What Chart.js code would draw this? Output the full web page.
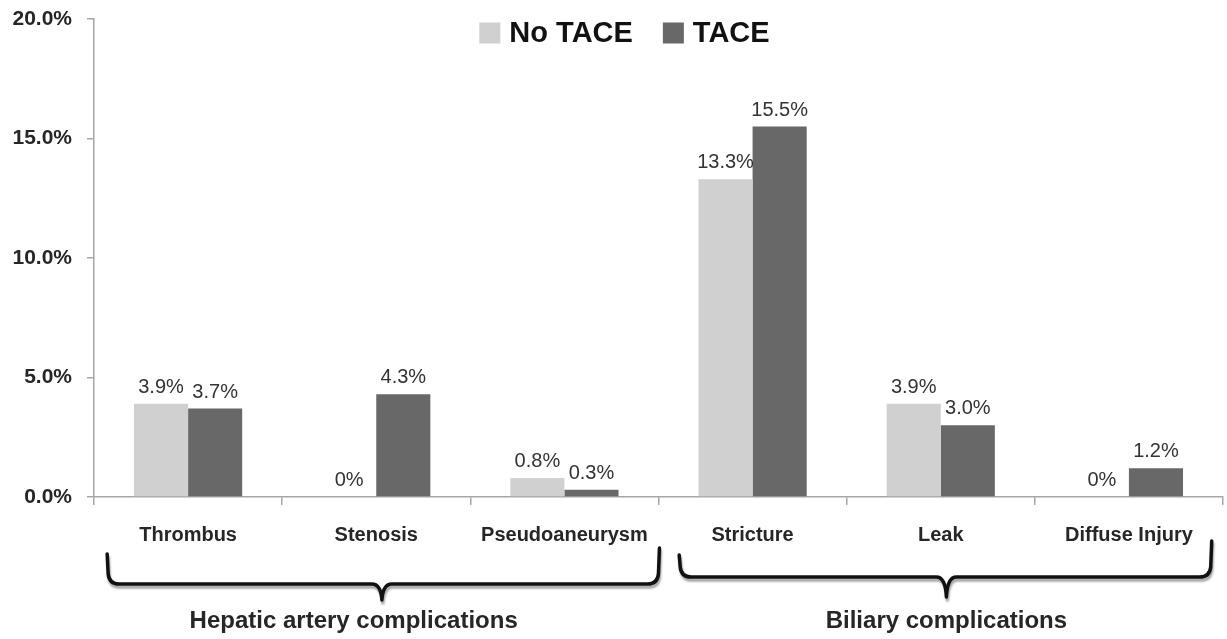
<!DOCTYPE html>
<html>
<head>
<meta charset="utf-8">
<script src="https://cdn.jsdelivr.net/npm/chart.js@4.4.1/dist/chart.umd.min.js"></script>
<style>
html,body{margin:0;padding:0;background:#fff;}
#wrap{width:1227px;height:639px;position:relative;}
</style>
</head>
<body>
<div id="wrap"><canvas id="c" width="1227" height="639"></canvas></div>
<script>
const categories = ['Thrombus', 'Stenosis', 'Pseudoaneurysm', 'Stricture', 'Leak', 'Diffuse Injury'];
const noTace = [3.9, 0, 0.8, 13.3, 3.9, 0];
const tace = [3.7, 4.3, 0.3, 15.5, 3.0, 1.2];
const seriesNames = ['No TACE', 'TACE'];
const yTicks = [0, 5, 10, 15, 20];
const groups = [
  { label: 'Hepatic artery complications', from: -0.43, to: 2.505, tip: 1.03, yLine: 584, yTopL: 554, yTopR: 548, yTip: 600, textX: 0.88 },
  { label: 'Biliary complications', from: 2.61, to: 5.44, tip: 4.03, yLine: 577, yTopL: 555, yTopR: 541, yTip: 597, textX: 4.03 }
];

const colors = ['#d0d0d0', '#686868'];
const textColor = '#262626';

function drawBrace(ctx, x1, x2, xm, yTopL, yTopR, yLine, yTip) {
  const r = 10;
  ctx.beginPath();
  ctx.moveTo(x1, yTopL);
  ctx.lineTo(x1 + 1, yLine - r);
  ctx.quadraticCurveTo(x1 + 2, yLine, x1 + r + 2, yLine);
  ctx.lineTo(xm - r, yLine);
  ctx.quadraticCurveTo(xm - 1, yLine, xm, yTip);
  ctx.quadraticCurveTo(xm + 1, yLine, xm + r, yLine);
  ctx.lineTo(x2 - r - 2, yLine);
  ctx.quadraticCurveTo(x2 - 2, yLine, x2 - 1, yLine - r);
  ctx.lineTo(x2, yTopR);
  ctx.stroke();
}

const overlay = {
  id: 'overlay',
  afterDraw(chart) {
    const ctx = chart.ctx;
    const x = chart.scales.x;
    const area = chart.chartArea;
    ctx.save();
    // data labels
    ctx.font = '20px "Liberation Sans", Arial, sans-serif';
    ctx.fillStyle = '#333';
    ctx.textAlign = 'center';
    ctx.textBaseline = 'alphabetic';
    chart.data.datasets.forEach((ds, di) => {
      const meta = chart.getDatasetMeta(di);
      meta.data.forEach((el, i) => {
        const v = ds.data[i];
        const t = v === 0 ? '0%' : v.toFixed(1) + '%';
        ctx.fillText(t, el.x, el.y - 11);
      });
    });
    // legend
    ctx.font = 'bold 29px "Liberation Sans", Arial, sans-serif';
    ctx.textBaseline = 'middle';
    ctx.textAlign = 'left';
    const box = 21, gapBox = 9, gapItem = 30;
    const widths = seriesNames.map(n => ctx.measureText(n).width);
    const total = widths.reduce((a, w) => a + box + gapBox + w, 0) + gapItem;
    let lx = (area.left + area.right) / 2 - 34 - total / 2;
    const ly = 33;
    seriesNames.forEach((n, i) => {
      ctx.fillStyle = colors[i];
      ctx.fillRect(lx, ly - box / 2, box, box);
      lx += box + gapBox;
      ctx.fillStyle = '#111';
      ctx.fillText(n, lx, ly + 1);
      lx += widths[i] + gapItem;
    });
    // braces
    ctx.lineWidth = 3.5;
    ctx.strokeStyle = '#111';
    ctx.lineJoin = 'round';
    ctx.lineCap = 'round';
    ctx.shadowColor = 'rgba(0,0,0,0.35)';
    ctx.shadowOffsetY = 3;
    ctx.shadowOffsetX = 1;
    ctx.shadowBlur = 2;
    groups.forEach(g => {
      drawBrace(ctx, x.getPixelForValue(g.from), x.getPixelForValue(g.to), x.getPixelForValue(g.tip), g.yTopL, g.yTopR, g.yLine, g.yTip);
    });
    ctx.shadowColor = 'transparent';
    ctx.font = 'bold 24px "Liberation Sans", Arial, sans-serif';
    ctx.fillStyle = textColor;
    ctx.textAlign = 'center';
    ctx.textBaseline = 'middle';
    groups.forEach(g => {
      ctx.fillText(g.label, x.getPixelForValue(g.textX), 621);
    });
    ctx.restore();
  }
};

new Chart(document.getElementById('c'), {
  type: 'bar',
  data: {
    labels: categories,
    datasets: [
      { label: seriesNames[0], data: noTace, backgroundColor: colors[0] },
      { label: seriesNames[1], data: tace, backgroundColor: colors[1] }
    ]
  },
  options: {
    responsive: false,
    animation: false,
    devicePixelRatio: 1,
    layout: { padding: { top: 19, right: 4, left: 0, bottom: 0 } },
    plugins: { legend: { display: false }, tooltip: { enabled: false } },
    datasets: { bar: { categoryPercentage: 0.575, barPercentage: 1 } },
    scales: {
      x: {
        afterFit(s) { s.height = 142; },
        border: { color: '#a6a6a6', width: 1.5 },
        grid: { offset: true, drawOnChartArea: false, drawTicks: true, tickLength: 8, color: '#a6a6a6', lineWidth: 1.5 },
        ticks: { padding: 18, color: textColor, font: { family: '"Liberation Sans", Arial, sans-serif', size: 20, weight: 'bold' }, maxRotation: 0, autoSkip: false }
      },
      y: {
        min: 0, max: 20,
        afterFit(s) { s.width = 94; s.paddingTop = 0; s.paddingBottom = 0; },
        afterBuildTicks(s) { s.ticks = yTicks.map(v => ({ value: v })); },
        border: { color: '#a6a6a6', width: 1.5 },
        grid: { drawOnChartArea: false, drawTicks: true, tickLength: 7, color: '#a6a6a6', lineWidth: 1.5 },
        ticks: { padding: 15, color: textColor, font: { family: '"Liberation Sans", Arial, sans-serif', size: 21, weight: 'bold' }, callback: v => v.toFixed(1) + '%' }
      }
    }
  },
  plugins: [overlay]
});
</script>
</body>
</html>
